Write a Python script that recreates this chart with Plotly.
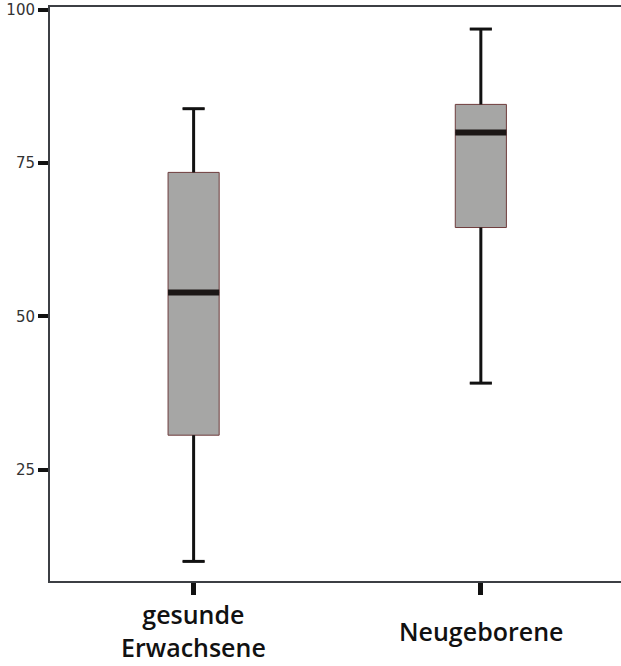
import plotly.graph_objects as go

categories = ["gesunde Erwachsene", "Neugeborene"]
cat_labels = ["gesunde<br>Erwachsene", "Neugeborene"]
lower = [10.0, 39.1]
q1 = [30.6, 64.5]
median = [53.9, 80.0]
q3 = [73.5, 84.6]
upper = [83.9, 96.9]
y_ticks = [25, 50, 75, 100]

box_w = 0.178
cap_w = 0.077

fig = go.Figure()
fig.add_trace(go.Box(
    x=[0, 1], q1=q1, median=median, q3=q3, lowerfence=lower, upperfence=upper,
    width=box_w, whiskerwidth=cap_w / box_w,
    fillcolor="#a6a6a5", line=dict(color="#6e3c3c", width=1),
    boxpoints=False, showlegend=False, hoverinfo="skip",
))

shapes = []
for i in range(len(categories)):
    # whiskers
    shapes.append(dict(type="line", xref="x", yref="y", x0=i, x1=i, y0=q3[i], y1=upper[i],
                       line=dict(color="#111111", width=3)))
    shapes.append(dict(type="line", xref="x", yref="y", x0=i, x1=i, y0=lower[i], y1=q1[i],
                       line=dict(color="#111111", width=3)))
    # caps
    for v in (lower[i], upper[i]):
        shapes.append(dict(type="line", xref="x", yref="y", x0=i - cap_w / 2, x1=i + cap_w / 2,
                           y0=v, y1=v, line=dict(color="#111111", width=3)))
    # median
    shapes.append(dict(type="line", xref="x", yref="y", x0=i - box_w / 2, x1=i + box_w / 2,
                       y0=median[i], y1=median[i], line=dict(color="#1c1716", width=6)))

annotations = []
for i, lab in enumerate(cat_labels):
    annotations.append(dict(x=i, xref="x", y=-0.087, yref="paper", text=lab, showarrow=False,
                            yanchor="middle", xanchor="center",
                            font=dict(family="Open Sans", size=25, color="#111111", weight=600)))

fig.update_layout(
    width=621, height=666,
    margin=dict(l=50, r=0, t=7, b=85),
    paper_bgcolor="white", plot_bgcolor="white",
    shapes=shapes, annotations=annotations,
    xaxis=dict(range=[-0.5, 1.488], tickvals=[0, 1], showticklabels=False,
               ticks="outside", ticklen=12, tickwidth=5, tickcolor="#111111",
               showline=True, linecolor="#3c3f44", linewidth=2, mirror=True,
               showgrid=False, zeroline=False),
    yaxis=dict(range=[6.8, 100.5], tickvals=y_ticks, ticks="outside", ticklen=10, tickwidth=4,
               tickcolor="#111111", showline=True, linecolor="#3c3f44", linewidth=2,
               showgrid=False, zeroline=False,
               tickfont=dict(family="DejaVu Sans", size=15, color="#333333")),
)

fig.write_html("out.html", config={"displayModeBar": False},
               post_script="document.body.style.margin='0';document.body.style.overflow='hidden';")
